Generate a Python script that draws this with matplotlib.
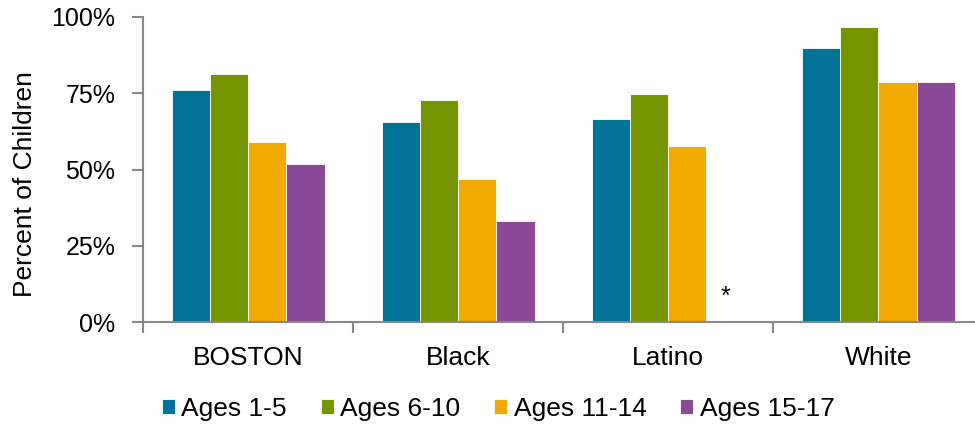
import numpy as np
import matplotlib.pyplot as plt

plt.rcParams['font.family'] = ['Liberation Sans', 'DejaVu Sans']

groups = ["BOSTON", "Black", "Latino", "White"]
series = ["Ages 1-5", "Ages 6-10", "Ages 11-14", "Ages 15-17"]
ages_1_5 = [76.2, 65.7, 66.7, 90.0]
ages_6_10 = [81.3, 72.9, 74.6, 96.8]
ages_11_14 = [58.9, 47.0, 57.8, 78.8]
ages_15_17 = [51.8, 33.2, np.nan, 78.8]   # Latino 15-17 not reported (*)
colors = ["#007396", "#759600", "#F2AA00", "#8B4A97"]

values = [ages_1_5, ages_6_10, ages_11_14, ages_15_17]

fig = plt.figure(figsize=(9.75, 4.25), dpi=100)
ax = fig.add_axes([143 / 975, 103 / 425, 832 / 975, 305 / 425])

x = np.arange(len(groups))
w = 0.182
for i, (vals, name, c) in enumerate(zip(values, series, colors)):
    ax.bar(x + (i - 1.5) * w, vals, width=w, color=c, label=name,
           edgecolor="white", linewidth=0.6)

# asterisk where the Latino 15-17 value is missing
ax.text(2 + 1.5 * w, 6, "*", ha="center", va="baseline", fontsize=18)

ax.set_xlim(-0.5, 3.46)
ax.set_ylim(0, 100)
ax.set_yticks([0, 25, 50, 75, 100])
ax.set_yticklabels(["0%", "25%", "50%", "75%", "100%"])
ax.set_ylabel("Percent of Children", fontsize=19)
ax.yaxis.set_label_coords(-0.128, 0.452)

# category boundaries as major ticks, names on minor ticks
ax.set_xticks(np.arange(-0.5, 3.5, 1.0))
ax.set_xticklabels([])
ax.set_xticks(x, minor=True)
ax.set_xticklabels(groups, minor=True)
ax.tick_params(axis="x", which="major", length=8, width=1.5, color="#888888", direction="out")
ax.tick_params(axis="x", which="minor", length=0, pad=17, labelsize=19)
ax.tick_params(axis="y", length=8, width=1.5, color="#888888", pad=12, labelsize=18)

for s in ["top", "right"]:
    ax.spines[s].set_visible(False)
for s in ["left", "bottom"]:
    ax.spines[s].set_color("#888888")
    ax.spines[s].set_linewidth(1.5)

fig.legend(loc="center", bbox_to_anchor=(0.511, 0.037), ncol=4, frameon=False,
           fontsize=19, handlelength=0.5, handleheight=0.5, handletextpad=0.23,
           columnspacing=1.29, borderpad=0)

plt.savefig("out.png", dpi=100)
